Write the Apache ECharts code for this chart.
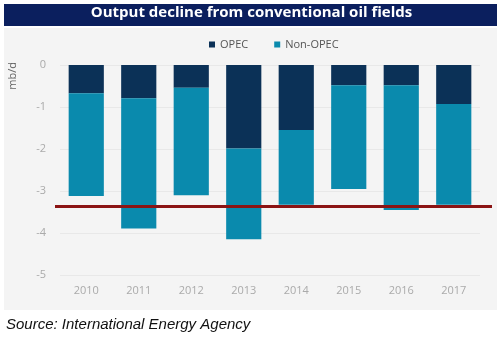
<!DOCTYPE html>
<html>
<head>
<meta charset="utf-8">
<script src="https://cdn.jsdelivr.net/npm/echarts@6/dist/echarts.min.js"></script>
<style>
html,body{margin:0;padding:0;background:#fff;}
#c{width:503px;height:337px;}
</style>
</head>
<body>
<div id="c"></div>
<script>
var years = ['2010','2011','2012','2013','2014','2015','2016','2017'];
var opec = [-0.67, -0.79, -0.54, -1.99, -1.55, -0.48, -0.48, -0.93];
var nonOpec = [-2.45, -3.10, -2.56, -2.16, -1.78, -2.47, -2.97, -2.40];
var refLevel = -3.37;
var titleText = 'Output decline from conventional oil fields';
var sourceText = 'Source: International Energy Agency';
var unitLabel = 'mb/d';

var chart = echarts.init(document.getElementById('c'), null, {renderer: 'canvas'});
chart.setOption({
  animation: false,
  backgroundColor: '#ffffff',
  graphic: [
    {type: 'rect', z: -10, shape: {x: 4, y: 4, width: 493, height: 22}, style: {fill: '#0b1f5e'}},
    {type: 'rect', z: -10, shape: {x: 4, y: 28, width: 493, height: 282}, style: {fill: '#f4f4f4'}},
    {type: 'text', left: 7, top: 62, rotation: Math.PI / 2, style: {text: unitLabel, fill: '#666', font: '11px "Open Sans"'}}
  ],
  title: [
    {text: titleText, left: 'center', top: 5, textStyle: {color: '#fff', fontSize: 15, fontWeight: 'bold', fontFamily: '"Open Sans"'}, padding: 0},
    {text: sourceText, left: 6, top: 317, textStyle: {color: '#111', fontSize: 15, fontStyle: 'italic', fontWeight: 'normal', fontFamily: '"Liberation Sans"'}, padding: 0}
  ],
  legend: {
    top: 34, left: 204,
    itemWidth: 6, itemHeight: 6, itemGap: 26,
    icon: 'rect',
    textStyle: {color: '#555', fontSize: 11, fontFamily: '"Open Sans"'},
    data: ['OPEC', 'Non-OPEC']
  },
  grid: [
    {left: 60, right: 23, top: 65, bottom: 62},
    {left: 55, right: 11, top: 65, bottom: 62}
  ],
  xAxis: [
    {type: 'category', gridIndex: 0, data: years,
     axisLine: {show: false}, axisTick: {show: false},
     axisLabel: {color: '#aaa', fontSize: 11, margin: 10, fontFamily: '"Open Sans"'}},
    {type: 'value', gridIndex: 1, min: 0, max: 1, show: false}
  ],
  yAxis: [
    {type: 'value', gridIndex: 0, min: -5, max: 0, interval: 1,
     axisLine: {show: false}, axisTick: {show: false},
     splitLine: {lineStyle: {color: '#e8e8e8'}},
     axisLabel: {color: '#aaa', fontSize: 11, margin: 14, fontFamily: '"Open Sans"'}},
    {type: 'value', gridIndex: 1, min: -5, max: 0, show: false}
  ],
  series: [
    {name: 'OPEC', type: 'bar', stack: 's', data: opec, barWidth: '67%',
     itemStyle: {color: '#0b3157'}},
    {name: 'Non-OPEC', type: 'bar', stack: 's', data: nonOpec, barWidth: '67%',
     itemStyle: {color: '#0a8aad'}},
    {name: 'ref', type: 'line', xAxisIndex: 1, yAxisIndex: 1, z: 10,
     data: [[0, refLevel], [1, refLevel]], symbol: 'none',
     lineStyle: {color: '#8b1414', width: 3}}
  ]
});
</script>
</body>
</html>
